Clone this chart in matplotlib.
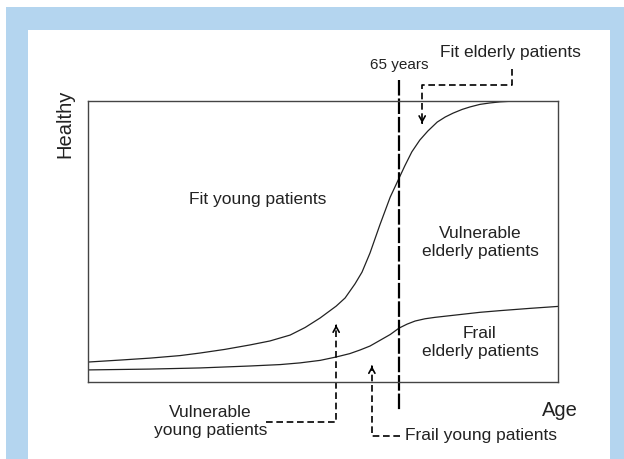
import matplotlib.pyplot as plt
from matplotlib.patches import Rectangle

plt.rcParams['font.family'] = ['Liberation Sans', 'DejaVu Sans']

# age axis (0 = young, 100 = old) and health axis (0 = frail, 100 = healthy)
fit_age = [0, 6.8, 13.2, 19.6, 23.8, 29.1, 34.5, 38.7, 43.0, 46.2, 49.4, 52.8,
           54.7, 56.8, 58.3, 60.0, 62.1, 64.3, 66.2, 67.4, 68.9, 70.6, 72.3, 74.3,
           76.0, 77.7, 79.6, 81.3, 83.4, 85.5, 87.7, 89.8, 100]
fit_health = [7.1, 7.8, 8.5, 9.4, 10.3, 11.6, 13.2, 14.6, 16.7, 19.4, 22.8, 27.0,
              29.9, 34.9, 39.1, 45.9, 55.9, 65.8, 72.6, 76.9, 81.9, 86.1, 89.3, 92.5,
              94.3, 95.7, 97.0, 97.9, 98.8, 99.3, 99.7, 99.9, 100]

frail_age = [0, 13.2, 23.8, 34.5, 40.9, 45.1, 49.4, 52.8, 55.7, 57.9, 60.0, 62.1,
             64.3, 66.2, 67.9, 69.6, 71.7, 73.8, 77.0, 80.2, 83.4, 87.7, 94.0, 100]
frail_health = [4.3, 4.6, 5.0, 5.7, 6.2, 6.8, 7.7, 8.9, 10.1, 11.4, 12.8, 14.8,
                16.9, 19.2, 20.6, 21.7, 22.5, 23.0, 23.6, 24.2, 24.8, 25.4, 26.2, 26.9]

cutoff_age = 66.2
cutoff_label = "65 years"

region_labels = ["Fit young patients", "Vulnerable\nelderly patients",
                 "Frail\nelderly patients"]
region_pos = [(36.2, 64.8), (83.4, 49.8), (83.4, 14.2)]

BLUE = "#b4d5ef"
INK = "#222222"

fig = plt.figure(figsize=(6.24, 4.59), dpi=100)
fig.patch.set_facecolor("white")

# light blue frame round the white panel
W, H = 624, 459
frame = [(6, 0, 22, 452), (6, 429, 618, 23), (610, 0, 14, 452)]
for x, y, w, h in frame:
    fig.patches.append(Rectangle((x / W, y / H), w / W, h / H, transform=fig.transFigure,
                                 facecolor=BLUE, edgecolor="none", zorder=0))

ax = fig.add_axes([88 / W, 1 - 382 / H, 470 / W, 281 / H])
ax.set_xlim(0, 100)
ax.set_ylim(0, 100)
ax.set_xticks([])
ax.set_yticks([])
for s in ax.spines.values():
    s.set_color("#444444")
    s.set_linewidth(1.0)

ax.plot(fit_age, fit_health, color=INK, lw=0.9, solid_joinstyle="round")
ax.plot(frail_age, frail_health, color=INK, lw=0.9, solid_joinstyle="round")

# 65 years divider
ax.plot([cutoff_age, cutoff_age], [107.5, -10.5], color="black", lw=1.6,
        dashes=(7, 1.3), clip_on=False)
ax.text(cutoff_age, 112.8, cutoff_label, ha="center", va="center", fontsize=11,
        color=INK)


def connector(xs, ys):
    ax.plot(xs, ys, color="black", lw=1.2, dashes=(4, 2.2), clip_on=False)
    ax.annotate("", xy=(xs[-1], ys[-1]), xytext=(xs[-1], ys[-1] - 0.01 * (ys[-1] - ys[-2])),
                arrowprops=dict(arrowstyle="->,head_length=0.4,head_width=0.22",
                                color="black", lw=1.2, shrinkA=0, shrinkB=0),
                annotation_clip=False)


connector([90.2, 90.2, 71.1, 71.1], [111.4, 105.7, 105.7, 92.1])
connector([37.9, 52.8, 52.8], [-14.2, -14.2, 20.3])
connector([66.4, 60.4, 60.4], [-19.2, -19.2, 5.7])

ax.text(89.8, 117.1, "Fit elderly patients", ha="center", va="center", fontsize=12.5,
        color=INK)
ax.text(26.0, -14.2, "Vulnerable\nyoung patients", ha="center", va="center",
        fontsize=12.5, color=INK, linespacing=1.25)
ax.text(67.4, -19.2, "Frail young patients", ha="left", va="center", fontsize=12.5,
        color=INK)

for label, (x, y) in zip(region_labels, region_pos):
    ax.text(x, y, label, ha="center", va="center", fontsize=12.5, color=INK,
            linespacing=1.25)

ax.text(100.4, -10.0, "Age", ha="center", va="center", fontsize=14.5, color=INK)
ax.text(-4.9, 91.8, "Healthy", ha="center", va="center", rotation=90, fontsize=14.5,
        color=INK)

fig.savefig("out.png", dpi=100)
